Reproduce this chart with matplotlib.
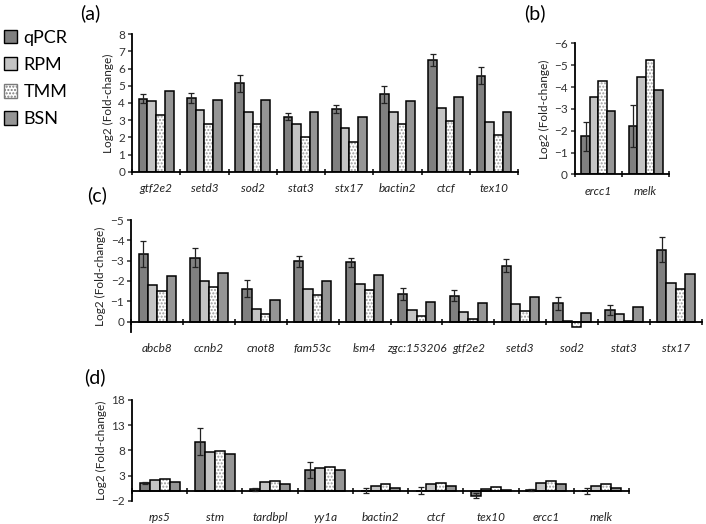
import numpy as np
import matplotlib
matplotlib.use('Agg')
import matplotlib.pyplot as plt
from matplotlib.patches import Patch

plt.rcParams['font.family'] = ['Lato', 'DejaVu Sans']

# --- Data
series = ['qPCR', 'RPM', 'TMM', 'BSN']

genes_a = ['gtf2e2', 'setd3', 'sod2', 'stat3', 'stx17', 'bactin2', 'ctcf', 'tex10']
qpcr_a = [4.25, 4.3, 5.15, 3.2, 3.65, 4.5, 6.5, 5.58]
qpcr_a_err = [0.25, 0.3, 0.5, 0.2, 0.25, 0.5, 0.37, 0.5]
rpm_a = [4.1, 3.6, 3.5, 2.8, 2.55, 3.5, 3.7, 2.88]
tmm_a = [3.3, 2.8, 2.75, 2.05, 1.75, 2.75, 2.97, 2.12]
bsn_a = [4.7, 4.2, 4.15, 3.45, 3.2, 4.12, 4.35, 3.5]

genes_b = ['ercc1', 'melk']
qpcr_b = [-1.75, -2.23]
qpcr_b_err = [0.67, 0.95]
rpm_b = [-3.53, -4.48]
tmm_b = [-4.29, -5.23]
bsn_b = [-2.89, -3.85]

genes_c = ['abcb8', 'ccnb2', 'cnot8', 'fam53c', 'lsm4', 'zgc:153206', 'gtf2e2',
           'setd3', 'sod2', 'stat3', 'stx17']
qpcr_c = [-3.33, -3.15, -1.61, -2.96, -2.93, -1.35, -1.27, -2.76, -0.9, -0.56, -3.55]
qpcr_c_err = [0.63, 0.45, 0.42, 0.25, 0.22, 0.29, 0.26, 0.3, 0.32, 0.26, 0.61]
rpm_c = [-1.82, -2.02, -0.64, -1.61, -1.87, -0.58, -0.49, -0.84, -0.03, -0.35, -1.92]
tmm_c = [-1.5, -1.71, -0.35, -1.3, -1.56, -0.25, -0.15, -0.51, 0.28, -0.02, -1.61]
bsn_c = [-2.25, -2.41, -1.05, -2.0, -2.27, -0.97, -0.89, -1.23, -0.44, -0.74, -2.32]

genes_d = ['rps5', 'stm', 'tardbpl', 'yy1a', 'bactin2', 'ctcf', 'tex10', 'ercc1', 'melk']
qpcr_d = [1.54, 9.7, 0.3, 4.2, 0.05, 0.05, -1.0, 0.2, 0.0]
qpcr_d_err = [0.2, 2.7, 0.3, 1.6, 0.5, 0.75, 0.5, 0.2, 0.55]
rpm_d = [2.07, 7.6, 1.68, 4.5, 0.95, 1.3, 0.45, 1.6, 0.95]
tmm_d = [2.33, 7.95, 2.0, 4.78, 1.35, 1.6, 0.8, 2.0, 1.3]
bsn_d = [1.68, 7.2, 1.28, 4.1, 0.5, 0.9, 0.1, 1.3, 0.55]

c_qpcr = '#808080'
c_rpm = '#c4c4c4'
c_tmm = '#e6e6e6'
c_bsn = '#959595'
w = 0.18


def draw_panel(ax, genes, q, qe, r, t, b, ylim, yticks, tick_labels=None):
    x = np.arange(len(genes))
    offs = (np.arange(4) - 1.5) * w
    ax.bar(x + offs[0], q, w, color=c_qpcr, edgecolor='black', linewidth=1.1, zorder=2)
    ax.errorbar(x + offs[0], q, yerr=qe, fmt='none', ecolor='#222222',
                elinewidth=0.9, capsize=2.5, capthick=0.9, zorder=3)
    ax.bar(x + offs[1], r, w, color=c_rpm, edgecolor='black', linewidth=1.1, zorder=2)
    # TMM dotted fill: hatch layer then outline
    ax.bar(x + offs[2], t, w, color='white', edgecolor='#9a9a9a', hatch='.....',
           linewidth=0, zorder=2)
    ax.bar(x + offs[2], t, w, fill=False, edgecolor='black', linewidth=1.1, zorder=2)
    ax.bar(x + offs[3], b, w, color=c_bsn, edgecolor='black', linewidth=1.1, zorder=2)

    ax.set_xlim(-0.5, len(genes) - 0.5)
    ax.set_ylim(*ylim)
    ax.set_yticks(yticks)
    if tick_labels is not None:
        ax.set_yticklabels(tick_labels)
    for s in ['top', 'right']:
        ax.spines[s].set_visible(False)
    ax.spines['bottom'].set_position(('data', 0))
    ax.spines['bottom'].set_linewidth(1.3)
    ax.spines['left'].set_linewidth(1.3)
    ax.set_xticks(np.arange(len(genes) + 1) - 0.5)
    ax.set_xticklabels([])
    ax.tick_params(axis='x', direction='inout', length=5, width=1.1)
    ax.tick_params(axis='y', direction='out', length=3, width=1.1, labelsize=8.5,
                   pad=2, colors='#333333')
    ax.spines['left'].set_color('black')
    for i, g in enumerate(genes):
        ax.annotate(g, xy=(i, 0), xycoords=ax.get_xaxis_transform(),
                    xytext=(0, -8), textcoords='offset points',
                    ha='center', va='top', style='italic', fontsize=8.5, color='#222222')
    ax.set_ylabel('Log2 (Fold-change)', fontsize=8.5, color='#222222', labelpad=3)


fig = plt.figure(figsize=(7.06, 5.24), dpi=100)

ax_a = fig.add_axes([0.187, 0.672, 0.547, 0.263])
draw_panel(ax_a, genes_a, qpcr_a, qpcr_a_err, rpm_a, tmm_a, bsn_a,
           (0, 8), range(0, 9))

ax_b = fig.add_axes([0.814, 0.667, 0.134, 0.250])
draw_panel(ax_b, genes_b, qpcr_b, qpcr_b_err, rpm_b, tmm_b, bsn_b,
           (0, -6), range(0, -7, -1))

ax_c = fig.add_axes([0.186, 0.367, 0.808, 0.213])
draw_panel(ax_c, genes_c, qpcr_c, qpcr_c_err, rpm_c, tmm_c, bsn_c,
           (0.5, -5), range(0, -6, -1))

ax_d = fig.add_axes([0.187, 0.044, 0.704, 0.193])
draw_panel(ax_d, genes_d, qpcr_d, qpcr_d_err, rpm_d, tmm_d, bsn_d,
           (-2, 18), [-2, 3, 8, 13, 18])

# panel letters
fig.text(0.128, 0.975, '(a)', fontsize=14, ha='center', va='center')
fig.text(0.757, 0.975, '(b)', fontsize=14, ha='center', va='center')
fig.text(0.137, 0.628, '(c)', fontsize=14, ha='center', va='center')
fig.text(0.135, 0.28, '(d)', fontsize=14, ha='center', va='center')

# legend
handles = [Patch(facecolor=c_qpcr, edgecolor='black'),
           Patch(facecolor=c_rpm, edgecolor='black'),
           Patch(facecolor='white', edgecolor='#7a7a7a', hatch='.....'),
           Patch(facecolor=c_bsn, edgecolor='black')]
fig.legend(handles, series, loc='upper left', bbox_to_anchor=(0.0, 0.95),
           frameon=False, fontsize=13, handlelength=0.75, handleheight=0.75,
           handletextpad=0.35, labelspacing=0.62, borderaxespad=0, borderpad=0.2)

plt.savefig('out.png', dpi=100)
